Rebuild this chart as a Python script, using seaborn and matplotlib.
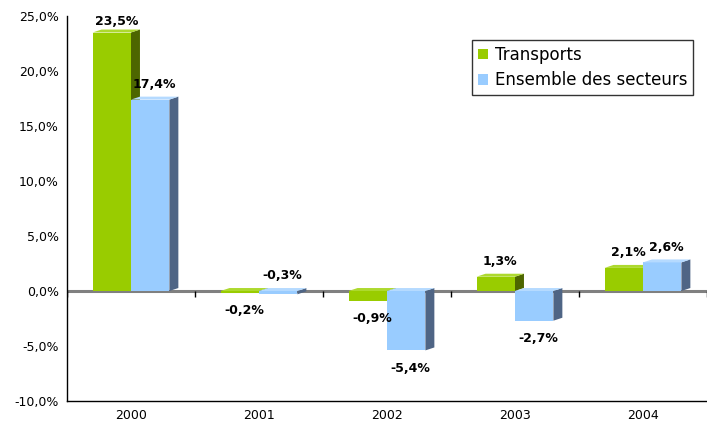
import numpy as np
import pandas as pd
import seaborn as sns
import matplotlib.pyplot as plt
from matplotlib.patches import Polygon, Patch

annees = ['2000', '2001', '2002', '2003', '2004']
transports = [23.5, -0.2, -0.9, 1.3, 2.1]
ensemble = [17.4, -0.3, -5.4, -2.7, 2.6]
series = ['Transports', 'Ensemble des secteurs']
couleurs = ['#99CC00', '#99CCFF']
cotes = ['#4D6600', '#4F6585']
dessus = ['#ADD92E', '#B5DAFF']

df = pd.DataFrame({
    'annee': annees * 2,
    'valeur': transports + ensemble,
    'serie': [series[0]] * 5 + [series[1]] * 5,
})

sns.set_style('white')
plt.rcParams['font.family'] = ['DejaVu Sans']
plt.rcParams['text.color'] = 'black'
plt.rcParams['xtick.color'] = 'black'
plt.rcParams['ytick.color'] = 'black'

fig = plt.figure(figsize=(7.07, 4.22), dpi=100)
ax = fig.add_axes([67 / 707, 21 / 422, 640 / 707, 385 / 422])

sns.barplot(data=df, x='annee', y='valeur', hue='serie', palette=couleurs,
            width=0.6, saturation=1, ax=ax, linewidth=0, legend=False)

ax.set_xlim(-0.5, 4.5)
ax.set_ylim(-10, 25)

# pseudo-3D depth, in data units
dx = 0.07
dy = 0.27

ax.axhline(0, color='#808080', lw=2.2, zorder=2)

for i, cont in enumerate(ax.containers):
    z = 3 + i
    for bar in cont:
        bar.set_zorder(z)
        x0 = bar.get_x()
        x1 = x0 + bar.get_width()
        h = bar.get_y() + bar.get_height()
        yt = max(0, h)
        yb = min(0, h)
        ax.add_patch(Polygon([(x1, yt), (x1 + dx, yt + dy), (x1 + dx, yb + dy), (x1, yb)],
                             closed=True, facecolor=cotes[i], edgecolor='none', zorder=z))
        ax.add_patch(Polygon([(x0, yt), (x0 + dx, yt + dy), (x1 + dx, yt + dy), (x1, yt)],
                             closed=True, facecolor=dessus[i], edgecolor='none', zorder=z))

# data labels
valeurs = [transports, ensemble]
for i, cont in enumerate(ax.containers):
    for j, bar in enumerate(cont):
        v = valeurs[i][j]
        xc = bar.get_x() + bar.get_width() / 2 + dx / 2
        txt = f"{v:.1f}%".replace('.', ',')
        if v >= 0 or (annees[j] == '2001' and i == 1):
            off = 1 if v > 20 else 4
            ax.annotate(txt, (xc, max(v, 0) + dy), xytext=(0, off), textcoords='offset points',
                        ha='center', va='bottom', fontsize=9, fontweight='bold', zorder=6)
        else:
            ax.annotate(txt, (xc, v), xytext=(0, -8), textcoords='offset points',
                        ha='center', va='top', fontsize=9, fontweight='bold', zorder=6)

# axes styling
ax.set_xlabel('')
ax.set_ylabel('')
ax.set_yticks(np.arange(-10, 26, 5))
ax.set_yticklabels([f"{t:.1f}%".replace('.', ',') for t in np.arange(-10, 26, 5)], fontsize=9)
ax.set_xticks(range(5))
ax.set_xticklabels(annees, fontsize=9)
ax.set_xticks(np.arange(-0.5, 5, 1), minor=True)
ax.tick_params(axis='x', which='major', length=0, pad=6)
ax.tick_params(axis='x', which='minor', length=5, width=1, color='black', direction='out')
ax.tick_params(axis='y', length=4, width=1, color='black', direction='out', pad=2)
ax.vlines(np.arange(-0.5, 5, 1), 0, -0.5, color='black', lw=1, zorder=2.5)

for s in ['top', 'right']:
    ax.spines[s].set_visible(False)
for s in ['left', 'bottom']:
    ax.spines[s].set_color('black')
    ax.spines[s].set_linewidth(1)

handles = [Patch(facecolor=c, edgecolor='none') for c in couleurs]
leg = ax.legend(handles, series, loc='upper right', bbox_to_anchor=(0.978, 0.938),
                borderaxespad=0, fontsize=12, frameon=True, fancybox=False,
                handlelength=0.6, handleheight=0.6, handletextpad=0.4,
                borderpad=0.35, labelspacing=0.45)
leg.get_frame().set_edgecolor('black')
leg.get_frame().set_linewidth(1)
leg.set_zorder(7)

fig.savefig('out.png', dpi=100)
